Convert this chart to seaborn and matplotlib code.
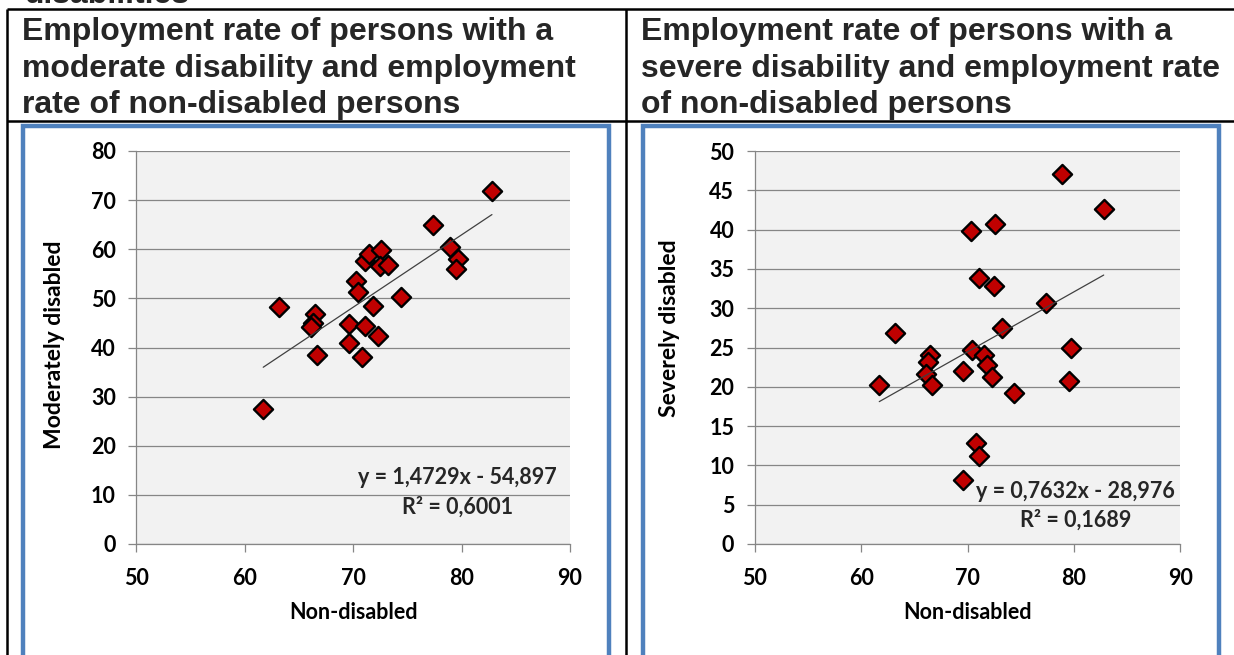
"""
Employment rate of persons with a moderate / severe disability
vs. employment rate of non-disabled persons (two scatter charts in a table).
"""

import numpy as np
import pandas as pd
import matplotlib.pyplot as plt
import matplotlib.patches as patches
from matplotlib.lines import Line2D
import seaborn as sns

# --- data ------------------------------------------------------------------
non_disabled = [61.7, 63.2, 66.5, 66.3, 66.1, 66.7, 69.6, 69.6, 70.3, 70.4,
                70.8, 71.1, 71.1, 71.5, 71.8, 72.3, 72.6, 72.5, 73.2, 74.4,
                77.4, 78.9, 79.7, 79.5, 82.8]
moderately = [27.4, 48.3, 46.9, 44.9, 44.2, 38.4, 44.7, 41.0, 53.5, 51.3,
              38.1, 44.3, 57.7, 59.1, 48.5, 42.4, 59.8, 56.5, 56.8, 50.2,
              65.0, 60.5, 58.0, 55.9, 71.8]
severely = [20.2, 26.8, 24.0, 23.2, 21.6, 20.2, 22.0, 8.2, 39.8, 24.7,
            12.8, 11.2, 33.8, 24.0, 22.8, 21.2, 40.7, 32.8, 27.5, 19.2,
            30.6, 47.1, 24.9, 20.7, 42.6]

# trendline equations as printed on the charts
mod_fit = (1.4729, -54.897)
sev_fit = (0.7632, -28.976)
mod_eq = ["y = 1,4729x - 54,897", "R\u00b2 = 0,6001"]
sev_eq = ["y = 0,7632x - 28,976", "R\u00b2 = 0,1689"]

left_header = ["Employment rate of persons with a",
               "moderate disability and employment",
               "rate of non-disabled persons"]
right_header = ["Employment rate of persons with a",
                "severe disability and employment rate",
                "of non-disabled persons"]

x_ticks = [50, 60, 70, 80, 90]
mod_ticks = [0, 10, 20, 30, 40, 50, 60, 70, 80]
sev_ticks = [0, 5, 10, 15, 20, 25, 30, 35, 40, 45, 50]

W, H = 1234, 655
GRID = "#868686"
BLUE = "#4F81BD"
RED = "#C00000"
CHART_FONT = "Lato"
HEAD_FONT = "Liberation Sans"
FS = 15.5

sns.set_theme(style="white")
plt.rcParams["font.family"] = [CHART_FONT, "DejaVu Sans"]


def fx(px):
    return px / W


def fy(py):
    return 1 - py / H


def px_rect(x0, y0, x1, y1):
    return [fx(x0), fy(y1), fx(x1) - fx(x0), fy(y0) - fy(y1)]


def hline(fig, x0, x1, y, **kw):
    fig.add_artist(Line2D([fx(x0), fx(x1)], [fy(y), fy(y)],
                          transform=fig.transFigure, **kw))


def vline(fig, x, y0, y1, **kw):
    fig.add_artist(Line2D([fx(x), fx(x)], [fy(y0), fy(y1)],
                          transform=fig.transFigure, **kw))


def draw_chart(ax, df, ycol, yticks, fit, eq, eq_pos, ylabel):
    ax.set_facecolor("#F2F2F2")
    sns.scatterplot(data=df, x="non_disabled", y=ycol, ax=ax, marker="D",
                    s=95, color=RED, edgecolor="black", linewidth=1.7,
                    zorder=3, legend=False)

    xs = np.array([df["non_disabled"].min(), df["non_disabled"].max()])
    ax.plot(xs, fit[0] * xs + fit[1], color="#404040", lw=0.9, zorder=4)

    ax.set_xlim(x_ticks[0], x_ticks[-1])
    ax.set_ylim(yticks[0], yticks[-1])
    ax.set_xticks(x_ticks)
    ax.set_yticks(yticks)
    ax.yaxis.grid(True, color=GRID, lw=0.9)
    ax.xaxis.grid(False)
    ax.set_axisbelow(True)
    for side in ["top", "right"]:
        ax.spines[side].set_visible(False)
    for side in ["left", "bottom"]:
        ax.spines[side].set_color(GRID)
        ax.spines[side].set_linewidth(0.9)
    ax.tick_params(axis="both", direction="out", length=5.8, width=0.9,
                   color=GRID, labelsize=FS, labelcolor="black")
    ax.tick_params(axis="y", pad=9.0, left=True)
    ax.tick_params(axis="x", pad=11.5, bottom=True)
    for lab in ax.get_xticklabels() + ax.get_yticklabels():
        lab.set_fontweight("bold")

    ax.set_xlabel("Non-disabled", fontsize=FS, fontweight="bold",
                  color="black")
    ax.xaxis.set_label_coords(0.5, -0.174)
    ax.xaxis.label.set_verticalalignment("center")
    ax.set_ylabel(ylabel, fontsize=16.5, fontweight="bold", color="black")

    ax.text(eq_pos[0], eq_pos[1], eq[0], ha="center", va="center",
            fontsize=FS, fontweight="bold", zorder=5)
    ax.text(eq_pos[0], eq_pos[2], eq[1], ha="center", va="center",
            fontsize=FS, fontweight="bold", zorder=5)


def main():
    df = pd.DataFrame({"non_disabled": non_disabled,
                       "moderately": moderately,
                       "severely": severely})

    fig = plt.figure(figsize=(W / 100, H / 100), dpi=100)
    fig.patch.set_facecolor("white")

    # table frame
    black = dict(color="black", lw=1.8, solid_capstyle="butt")
    hline(fig, 6.5, W, 8.7, **black)
    hline(fig, 6.5, W, 121, **black)
    vline(fig, 6.5, 8.7, H + 5, **black)
    vline(fig, 626, 8.7, H + 5, **black)

    # cut-off line of text above the table
    fig.text(fx(25), fy(3), "disabilities", family=HEAD_FONT,
             fontweight="bold", fontsize=23, va="baseline", zorder=0)

    for i, line in enumerate(left_header):
        fig.text(fx(22), fy(40 + 36.5 * i), line, family=HEAD_FONT,
                 fontweight="bold", fontsize=23, va="baseline")
    for i, line in enumerate(right_header):
        fig.text(fx(641), fy(40 + 36.5 * i), line, family=HEAD_FONT,
                 fontweight="bold", fontsize=23, va="baseline")

    # chart area borders
    for x0, x1 in [(23.2, 608.5), (642.5, 1218.5)]:
        fig.add_artist(patches.Rectangle((fx(x0), fy(H + 20)),
                                         fx(x1) - fx(x0), fy(125.5) - fy(H + 20),
                                         transform=fig.transFigure, fill=False,
                                         edgecolor=BLUE, lw=3.2))

    ax1 = fig.add_axes(px_rect(136.4, 151, 570, 544))
    ax2 = fig.add_axes(px_rect(754.8, 151, 1180.3, 544))

    draw_chart(ax1, df, "moderately", mod_ticks, mod_fit, mod_eq,
               (79.6, 13.5, 7.5), "Moderately disabled")
    ax1.yaxis.set_label_coords(-0.19, 0.506)
    ax1.yaxis.label.set_verticalalignment("center")

    draw_chart(ax2, df, "severely", sev_ticks, sev_fit, sev_eq,
               (80.15, 6.74, 3.05), "Severely disabled")
    ax2.yaxis.set_label_coords(-0.2, 0.55)
    ax2.yaxis.label.set_verticalalignment("center")

    fig.savefig("out.png", dpi=100)


if __name__ == "__main__":
    main()
